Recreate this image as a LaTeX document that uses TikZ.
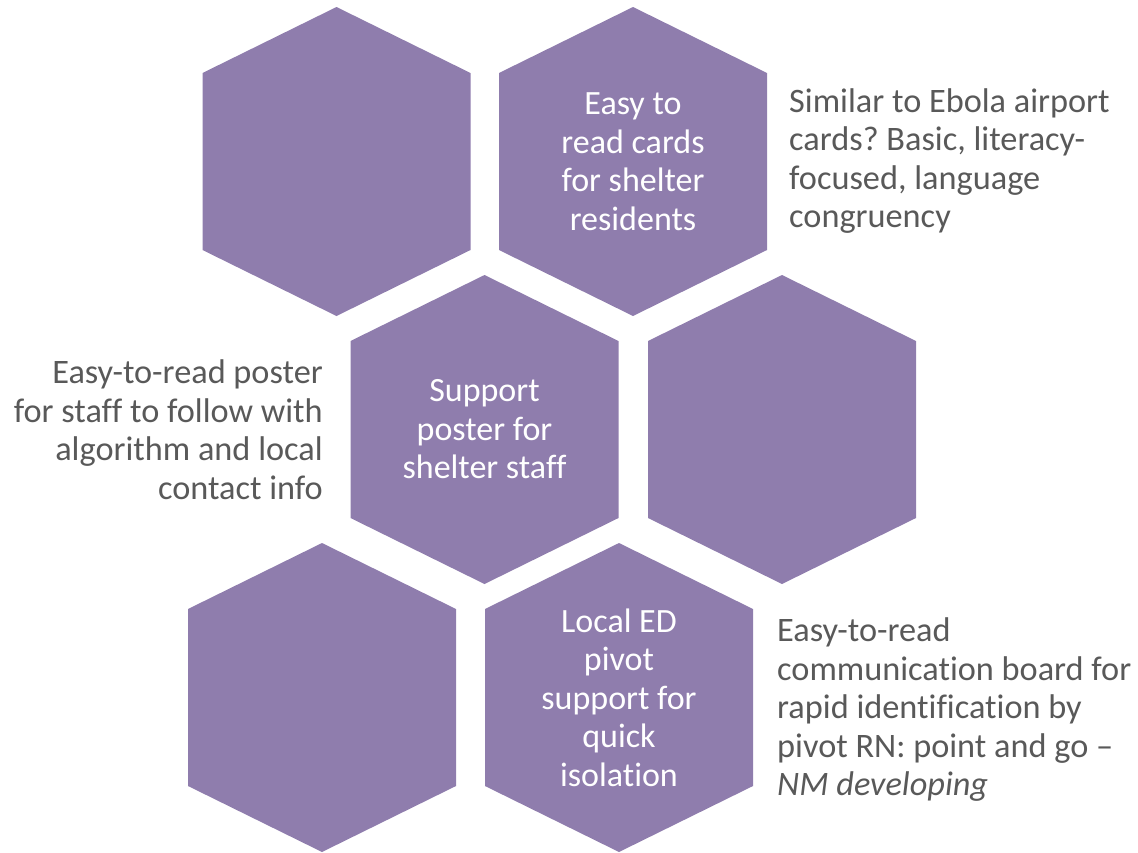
\documentclass[tikz,border=0pt]{standalone}
\usepackage{fontspec}
\setmainfont{Carlito}[Ligatures=NoCommon]
\usetikzlibrary{positioning}
\definecolor{hexpurple}{HTML}{8F7DAD}
\definecolor{notegray}{HTML}{595959}
\frenchspacing

\begin{document}
\begin{tikzpicture}[x=1pt, y=-1pt,
  hexcell/.pic={\fill[hexpurple] (0,-154.5) -- (134,-88.5) -- (134,88.5) -- (0,154.5) -- (-134,88.5) -- (-134,-88.5) -- cycle;},
  hextext/.style={text=white, align=center, inner sep=0pt, font=\fontsize{34}{38.5}\selectfont},
  note/.style={text=notegray, inner sep=0pt, font=\fontsize{34.3}{38.5}\selectfont}]
\useasboundingbox (0,0) rectangle (1138,852);
% honeycomb
\pic at (336.5,161.5) {hexcell};
\pic at (633,161.5) {hexcell};
\pic at (484.5,429.5) {hexcell};
\pic at (782,429.5) {hexcell};
\pic at (322,697.5) {hexcell};
\pic at (619,697.5) {hexcell};
% texts inside the cells
\node[hextext] (cards) at (633,161.5) {Easy to\\read cards\\for shelter\\residents};
\node[hextext] (poster) at (484.5,429.5) {Support\\poster for\\shelter staff};
\node[hextext] (pivot) at (619,697.5) {Local ED\\pivot\\support for\\quick\\isolation};
% side notes
\node[note, align=left, anchor=west] (cardsnote) at (789,161) {Similar to Ebola airport\\cards? Basic, literacy-\\focused, language\\congruency};
\node[note, align=right, anchor=east] (posternote) at (323,429.5) {Easy-to-read poster\\for staff to follow with\\algorithm and local\\contact info};
\node[note, align=left, anchor=west] (pivotnote) at (777,710) {Easy-to-read\\communication board for\\rapid identification by\\pivot RN: point and go --\\\textit{NM developing}};
\end{tikzpicture}
\end{document}
